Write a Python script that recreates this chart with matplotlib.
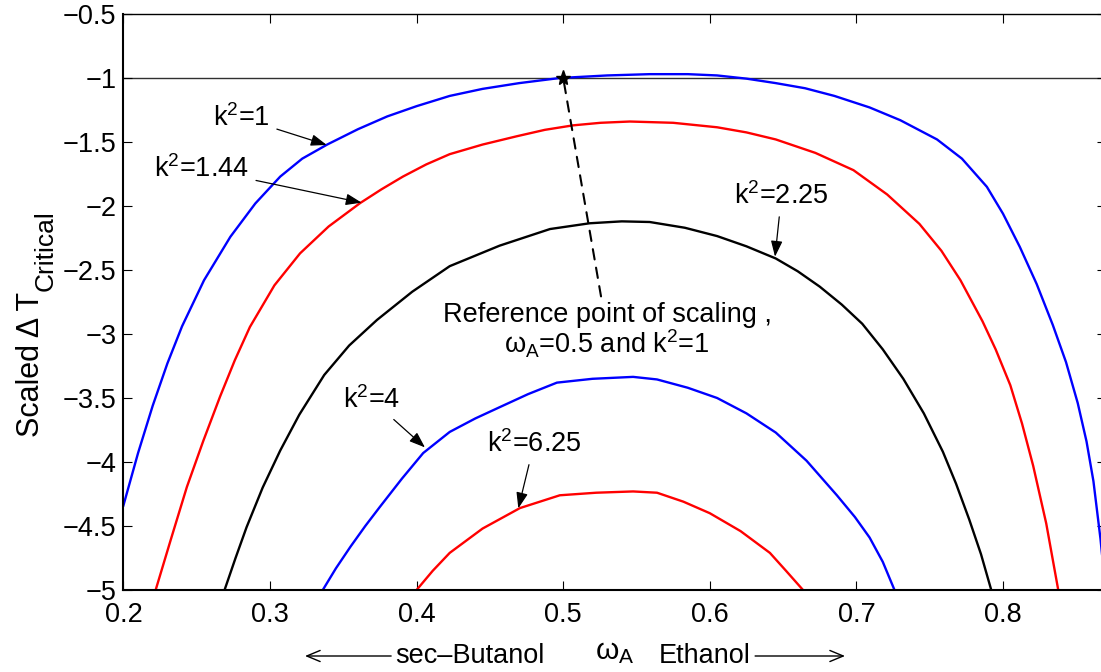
import numpy as np
import matplotlib
matplotlib.use("Agg")
import matplotlib.pyplot as plt

plt.rcParams['font.family'] = ['Liberation Sans', 'DejaVu Sans']
plt.rcParams['mathtext.fontset'] = 'custom'
plt.rcParams['mathtext.rm'] = 'Liberation Sans'
plt.rcParams['mathtext.it'] = 'Liberation Sans:italic'
plt.rcParams['mathtext.bf'] = 'Liberation Sans:bold'

# --- curves: omega_A vs scaled dT_critical ---
w_k1 = [0.200, 0.210, 0.220, 0.230, 0.240, 0.255, 0.273, 0.290, 0.307, 0.322,
        0.339, 0.360, 0.380, 0.400, 0.4226, 0.445, 0.470, 0.4977, 0.530, 0.559,
        0.585, 0.605, 0.625, 0.645, 0.665, 0.685, 0.709, 0.730, 0.755, 0.772,
        0.789, 0.800, 0.8115, 0.823, 0.834, 0.843, 0.851, 0.857, 0.8617, 0.8665, 0.870]
t_k1 = [-4.34, -3.93, -3.56, -3.23, -2.94, -2.58, -2.24, -1.98, -1.77, -1.63,
        -1.52, -1.40, -1.30, -1.22, -1.14, -1.085, -1.04, -1.00, -0.98, -0.97,
        -0.97, -0.98, -1.005, -1.04, -1.08, -1.14, -1.23, -1.33, -1.48, -1.63,
        -1.85, -2.06, -2.32, -2.61, -2.93, -3.22, -3.54, -3.84, -4.15, -4.60, -5.0]

w_k144 = [0.222, 0.2325, 0.2433, 0.2545, 0.2659, 0.276, 0.2863, 0.303, 0.3205, 0.340,
          0.3615, 0.376, 0.3907, 0.4066, 0.4226, 0.445, 0.4684, 0.4875, 0.5067, 0.5255,
          0.5455, 0.575, 0.605, 0.625, 0.645, 0.672, 0.698, 0.721, 0.743, 0.758,
          0.771, 0.786, 0.795, 0.805, 0.813, 0.8206, 0.8295, 0.8377]
t_k144 = [-5.0, -4.60, -4.195, -3.835, -3.49, -3.205, -2.945, -2.62, -2.37, -2.16,
          -1.977, -1.87, -1.77, -1.675, -1.595, -1.52, -1.455, -1.405, -1.37, -1.35,
          -1.34, -1.35, -1.385, -1.425, -1.48, -1.585, -1.72, -1.91, -2.14, -2.35,
          -2.58, -2.90, -3.12, -3.40, -3.70, -4.03, -4.48, -5.0]

w_k225 = [0.269, 0.2765, 0.284, 0.295, 0.307, 0.320, 0.337, 0.354, 0.373, 0.397,
          0.4226, 0.4566, 0.491, 0.518, 0.540, 0.559, 0.583, 0.605, 0.625, 0.645,
          0.660, 0.675, 0.690, 0.704, 0.718, 0.732, 0.746, 0.759, 0.768, 0.777,
          0.785, 0.792]
t_k225 = [-5.0, -4.75, -4.51, -4.20, -3.91, -3.63, -3.32, -3.09, -2.89, -2.67,
          -2.47, -2.31, -2.18, -2.135, -2.12, -2.125, -2.17, -2.235, -2.315, -2.41,
          -2.51, -2.63, -2.77, -2.92, -3.12, -3.35, -3.62, -3.92, -4.17, -4.45,
          -4.72, -5.0]

w_k4 = [0.336, 0.345, 0.355, 0.365, 0.375, 0.390, 0.4045, 0.4226, 0.440, 0.457,
        0.476, 0.4957, 0.520, 0.5477, 0.564, 0.585, 0.605, 0.625, 0.645, 0.666,
        0.6867, 0.699, 0.709, 0.718, 0.726]
t_k4 = [-5.0, -4.83, -4.66, -4.50, -4.35, -4.13, -3.93, -3.765, -3.66, -3.57,
        -3.47, -3.38, -3.35, -3.335, -3.355, -3.42, -3.50, -3.62, -3.77, -3.99,
        -4.26, -4.43, -4.59, -4.78, -5.0]

w_k625 = [0.400, 0.411, 0.4226, 0.445, 0.4705, 0.4977, 0.5225, 0.5477, 0.564, 0.582,
          0.600, 0.621, 0.641, 0.652, 0.6636]
t_k625 = [-5.0, -4.85, -4.71, -4.52, -4.36, -4.26, -4.24, -4.23, -4.24, -4.31,
          -4.40, -4.54, -4.71, -4.85, -5.0]

xticks = [0.2, 0.3, 0.4, 0.5, 0.6, 0.7, 0.8]
yticks = [-5, -4.5, -4, -3.5, -3, -2.5, -2, -1.5, -1, -0.5]

# labels: (text, arrow tip, text centre)
labels = [
    ('k$^2$=1',    (0.3387, -1.523), (0.2807, -1.312)),
    ('k$^2$=1.44', (0.3625, -1.974), (0.2534, -1.711)),
    ('k$^2$=2.25', (0.6445, -2.396), (0.6489, -1.922)),
    ('k$^2$=4',    (0.4057, -3.886), (0.3696, -3.516)),
    ('k$^2$=6.25', (0.4694, -4.362), (0.4801, -3.859)),
]
ref_point = (0.5, -1.0)

W, H = 1101, 672
fig = plt.figure(figsize=(W / 100, H / 100), dpi=100)
ax = fig.add_axes([123.4 / W, 82 / H, 982.2 / W, 576 / H])

ax.axhline(-1, color='#303030', lw=1.0, zorder=1)
for w, t, c in [(w_k1, t_k1, 'b'), (w_k144, t_k144, 'r'), (w_k225, t_k225, 'k'),
                (w_k4, t_k4, 'b'), (w_k625, t_k625, 'r')]:
    ax.plot(w, t, color=c, lw=1.7, zorder=2, solid_joinstyle='round')

ax.set_xlim(0.2, 0.87)
ax.set_ylim(-5, -0.5)
ax.set_xticks(xticks, [f'{v:g}' for v in xticks])
ax.set_yticks(yticks, [f'{v:g}'.replace('-', '\u2212') for v in yticks])
ax.tick_params(direction='in', top=True, right=True, length=6.5, width=0.8,
               labelsize=19.5)
ax.tick_params(axis='x', pad=9)
ax.tick_params(axis='y', pad=5)
for s in ['left', 'bottom']:
    ax.spines[s].set_linewidth(1.5)
ax.spines['top'].set_linewidth(1.0)

arrow = dict(arrowstyle='-|>,head_length=0.6,head_width=0.22', color='k',
             lw=0.9, mutation_scale=16, shrinkA=3, shrinkB=0)
for txt, tip, pos in labels:
    ax.annotate(txt, xy=tip, xytext=pos, ha='center', va='center',
                fontsize=19.5, arrowprops=arrow)

ax.plot(*ref_point, marker='*', color='k', ms=11, zorder=4)
ax.annotate('Reference point of scaling ,\nω$_{\\mathrm{A}}$=0.5 and k$^2$=1',
            xy=ref_point, xytext=(0.5299, -2.977), ha='center', va='center',
            fontsize=19.5, linespacing=1.0,
            arrowprops=dict(arrowstyle='-', color='k', lw=1.5,
                            linestyle=(0, (5, 4)), shrinkA=2, shrinkB=0))

# y label, MATLAB-like large subscript: two pieces of rotated text
t_main = fig.text(39 / W, 235 / H, 'Scaled Δ T', rotation=90, rotation_mode='anchor',
                  ha='left', va='baseline', fontsize=22)
fig.canvas.draw()
bb = t_main.get_window_extent(fig.canvas.get_renderer())
fig.text(53 / W, (bb.y1 + 1) / H, 'Critical', rotation=90, rotation_mode='anchor',
         ha='left', va='baseline', fontsize=19)

# composition axis note under the x axis
yb = 1 - 656 / H
ax.annotate('sec–Butanol', xy=(305 / W, yb), xytext=(470 / W, yb),
            xycoords='figure fraction', textcoords='figure fraction',
            ha='center', va='center', fontsize=19.5,
            arrowprops=dict(arrowstyle='->,head_length=0.6,head_width=0.25',
                            color='k', lw=1.0, mutation_scale=16, shrinkA=1, shrinkB=0))
ax.annotate('Ethanol', xy=(845 / W, yb), xytext=(705 / W, yb),
            xycoords='figure fraction', textcoords='figure fraction',
            ha='center', va='center', fontsize=19.5,
            arrowprops=dict(arrowstyle='->,head_length=0.6,head_width=0.25',
                            color='k', lw=1.0, mutation_scale=16, shrinkA=1, shrinkB=0))
fig.text(615 / W, 1 - 652 / H, 'ω$_{\\mathrm{A}}$', ha='center', va='center',
         fontsize=21.5)

fig.savefig('out.png', dpi=100)
